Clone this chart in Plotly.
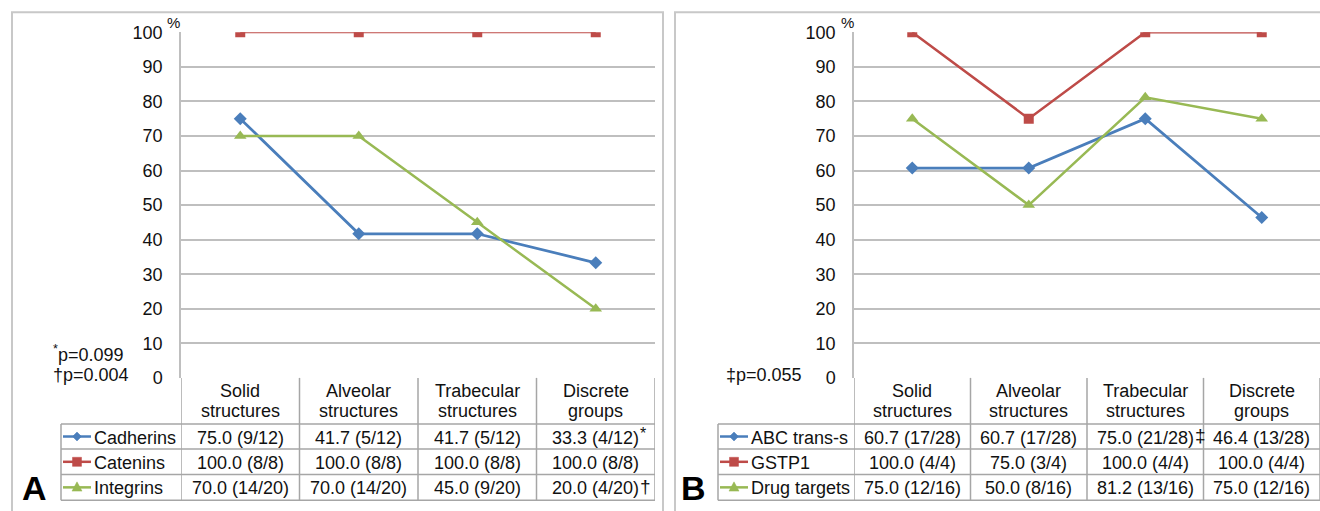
import plotly.graph_objects as go

# ---------------- data ----------------
categories = ["Solid structures", "Alveolar structures", "Trabecular structures", "Discrete groups"]

# Panel A
a_names = ["Cadherins", "Catenins", "Integrins"]
cadherins = [75.0, 41.7, 41.7, 33.3]
catenins = [100.0, 100.0, 100.0, 100.0]
integrins = [70.0, 70.0, 45.0, 20.0]
cadherins_n = ["9/12", "5/12", "5/12", "4/12"]
catenins_n = ["8/8", "8/8", "8/8", "8/8"]
integrins_n = ["14/20", "14/20", "9/20", "4/20"]
cadherins_note = ["", "", "", "*"]
catenins_note = ["", "", "", ""]
integrins_note = ["", "", "", "†"]

# Panel B
b_names = ["ABC trans-s", "GSTP1", "Drug targets"]
abc = [60.7, 60.7, 75.0, 46.4]
gstp1 = [100.0, 75.0, 100.0, 100.0]
drug = [75.0, 50.0, 81.2, 75.0]
abc_n = ["17/28", "17/28", "21/28", "13/28"]
gstp1_n = ["4/4", "3/4", "4/4", "4/4"]
drug_n = ["12/16", "8/16", "13/16", "12/16"]
abc_note = ["", "", "‡", ""]
gstp1_note = ["", "", "", ""]
drug_note = ["", "", "", ""]

y_ticks = [0, 10, 20, 30, 40, 50, 60, 70, 80, 90, 100]

# ---------------- styling / layout ----------------
W, H = 1320, 524
SY, BY = 0.96, 9.8     # how the photographed page maps figure pixels vertically
BLUE, RED, GREEN = "#4A7EBB", "#BE4B48", "#98B954"
GRID = "#BFBFBF"
TBL = "#A6A6A6"
FONT = "Liberation Sans, Arial, sans-serif"
FS = 18
TXT = "#111111"
# Arial advance widths (em) for the characters used in the table cells
CHAR_W = {".": 0.278, " ": 0.278, "(": 0.333, ")": 0.333, "/": 0.278}


def text_width(s, size):
    return sum(CHAR_W.get(ch, 0.556) for ch in s) * size


def px(x):
    return x / W


def py(y):
    return 1 - ((y - BY) / SY) / H


x_idx = list(range(len(categories)))

fig = go.Figure()

series_a = [(a_names[0], cadherins, BLUE, "diamond", 10, 2.75),
            (a_names[1], catenins, RED, "square", 10, 2.25),
            (a_names[2], integrins, GREEN, "triangle-up", 11, 2.5)]
series_b = [(b_names[0], abc, BLUE, "diamond", 10, 2.75),
            (b_names[1], gstp1, RED, "square", 10, 2.5),
            (b_names[2], drug, GREEN, "triangle-up", 11, 2.5)]

for name, vals, col, sym, sz, lw in series_a:
    fig.add_trace(go.Scatter(x=x_idx, y=vals, name=name, mode="lines+markers",
                             line=dict(color=col, width=lw),
                             marker=dict(symbol=sym, size=sz, color=col),
                             xaxis="x", yaxis="y", showlegend=False))
for name, vals, col, sym, sz, lw in series_b:
    fig.add_trace(go.Scatter(x=x_idx, y=vals, name=name, mode="lines+markers",
                             line=dict(color=col, width=lw),
                             marker=dict(symbol=sym, size=sz, color=col),
                             xaxis="x2", yaxis="y2", showlegend=False))

# geometry (pixels)
TOP, ZERO = 32, 377
ROW_EDGES = [423, 448, 473.5, 499]
A_LEFT, A_RIGHT, A_TBL_LEFT = 181, 655, 61
B_LEFT, B_RIGHT, B_TBL_LEFT = 854, 1320, 718

axis_common = dict(range=[-0.5, 3.5], showgrid=False, zeroline=False, showticklabels=False,
                   fixedrange=True)
yaxis_common = dict(range=[0, 100], tickvals=y_ticks, showgrid=True, gridcolor=GRID, gridwidth=1.5,
                    zeroline=False, showline=True, linecolor=GRID, linewidth=1.5,
                    tickfont=dict(size=FS, color=TXT, family=FONT),
                    ticklabelstandoff=13, ticks="", fixedrange=True)

fig.update_layout(
    width=W, height=H,
    margin=dict(l=0, r=0, t=0, b=0),
    paper_bgcolor="white", plot_bgcolor="white",
    font=dict(family=FONT, size=FS, color=TXT),
    xaxis=dict(domain=[px(A_LEFT), px(A_RIGHT)], anchor="y", **axis_common),
    yaxis=dict(domain=[py(ZERO), py(TOP)], anchor="x", **yaxis_common),
    xaxis2=dict(domain=[px(B_LEFT), px(B_RIGHT)], anchor="y2", **axis_common),
    yaxis2=dict(domain=[py(ZERO), py(TOP)], anchor="x2", **yaxis_common),
    showlegend=False,
)

shapes = []
annotations = []

# panel borders
shapes.append(dict(type="rect", xref="paper", yref="paper", x0=px(12), x1=px(663), y0=py(540), y1=py(12),
                   line=dict(color="#C8C8C8", width=2), layer="below"))
shapes.append(dict(type="rect", xref="paper", yref="paper", x0=px(675), x1=px(1340), y0=py(540), y1=py(12),
                   line=dict(color="#C8C8C8", width=2), layer="below"))


def marker_path(cx, cy, sym, r):
    if sym == "diamond":
        pts = [(cx, cy - r), (cx + r, cy), (cx, cy + r), (cx - r, cy)]
    elif sym == "square":
        pts = [(cx - r, cy - r), (cx + r, cy - r), (cx + r, cy + r), (cx - r, cy + r)]
    else:
        pts = [(cx, cy - r * 1.1), (cx + r, cy + r * 0.75), (cx - r, cy + r * 0.75)]
    return "M " + " L ".join(f"{px(x)},{py(y)}" for x, y in pts) + " Z"


def build_table(xref, tbl_left, plot_right, names, series, rows):
    # vertical column dividers (category boundaries on the category axis)
    for b in [-0.5, 0.5, 1.5, 2.5, 3.5]:
        shapes.append(dict(type="line", xref=xref, yref="paper", x0=b, x1=b,
                           y0=py(ZERO), y1=py(ROW_EDGES[-1]), line=dict(color=TBL, width=1.5)))
    # left edge of row-label column
    shapes.append(dict(type="line", xref="paper", yref="paper", x0=px(tbl_left), x1=px(tbl_left),
                       y0=py(ROW_EDGES[0]), y1=py(ROW_EDGES[-1]), line=dict(color=TBL, width=1.5)))
    # horizontal row lines
    for e in ROW_EDGES:
        shapes.append(dict(type="line", xref="paper", yref="paper", x0=px(tbl_left), x1=px(plot_right),
                           y0=py(e), y1=py(e), line=dict(color=TBL, width=1.5)))
    # header (two lines)
    for i, c in enumerate(categories):
        first, rest = c.split(" ", 1)
        for txt, yy in [(first, 390), (rest, 410)]:
            annotations.append(dict(xref=xref, yref="paper", x=i, y=py(yy), text=txt, showarrow=False,
                                    xanchor="center", yanchor="middle",
                                    font=dict(size=FS, family=FONT, color=TXT)))
    # rows
    for r, (vals, ns, notes) in enumerate(rows):
        yc = (ROW_EDGES[r] + ROW_EDGES[r + 1]) / 2
        # legend key + row label
        col, sym = series[r][2], series[r][3]
        kx0, kx1 = tbl_left + 2, tbl_left + 30
        shapes.append(dict(type="line", xref="paper", yref="paper", x0=px(kx0), x1=px(kx1),
                           y0=py(yc), y1=py(yc), line=dict(color=col, width=2.5)))
        shapes.append(dict(type="path", xref="paper", yref="paper",
                           path=marker_path((kx0 + kx1) / 2, yc, sym, 4.5 if sym != "triangle-up" else 5),
                           fillcolor=col, line=dict(color=col, width=0.5)))
        annotations.append(dict(xref="paper", yref="paper", x=px(kx1 + 1), y=py(yc + 1), text=names[r],
                                showarrow=False, xanchor="left", yanchor="middle",
                                font=dict(size=FS, family=FONT, color=TXT)))
        # cells
        for i in range(len(vals)):
            txt = f"{vals[i]:.1f} ({ns[i]})"
            annotations.append(dict(xref=xref, yref="paper", x=i, y=py(yc + 1), text=txt, showarrow=False,
                                    xanchor="center", yanchor="middle",
                                    font=dict(size=FS, family=FONT, color=TXT)))
            if notes[i]:
                small = notes[i] == "*"
                annotations.append(dict(xref=xref, yref="paper", x=i, y=py(yc + 1), text=notes[i],
                                        showarrow=False, xanchor="left", yanchor="middle",
                                        xshift=text_width(txt, FS) / 2 - 1,
                                        yshift=4 if small else 2,
                                        font=dict(size=16 if small else 19, family=FONT, color=TXT)))


build_table("x", A_TBL_LEFT, A_RIGHT, a_names, series_a,
            [(cadherins, cadherins_n, cadherins_note),
             (catenins, catenins_n, catenins_note),
             (integrins, integrins_n, integrins_note)])
build_table("x2", B_TBL_LEFT, B_RIGHT, b_names, series_b,
            [(abc, abc_n, abc_note),
             (gstp1, gstp1_n, gstp1_note),
             (drug, drug_n, drug_note)])

# % signs
for xx in [174, 847]:
    annotations.append(dict(xref="paper", yref="paper", x=px(xx), y=py(22), text="%", showarrow=False,
                            xanchor="center", yanchor="middle", font=dict(size=15, family=FONT, color=TXT)))

# p-values
annotations.append(dict(xref="paper", yref="paper", x=px(51), y=py(353),
                        text="<sup>*</sup>p=0.099", showarrow=False, xanchor="left", yanchor="middle",
                        font=dict(size=FS, family=FONT, color=TXT)))
annotations.append(dict(xref="paper", yref="paper", x=px(51), y=py(374),
                        text="†p=0.004", showarrow=False, xanchor="left", yanchor="middle",
                        font=dict(size=FS, family=FONT, color=TXT)))
annotations.append(dict(xref="paper", yref="paper", x=px(724), y=py(374),
                        text="‡p=0.055", showarrow=False, xanchor="left", yanchor="middle",
                        font=dict(size=FS, family=FONT, color=TXT)))

# panel letters
annotations.append(dict(xref="paper", yref="paper", x=px(34), y=py(487), text="<b>A</b>", showarrow=False,
                        xanchor="center", yanchor="middle", font=dict(size=34, family=FONT, color="black")))
annotations.append(dict(xref="paper", yref="paper", x=px(693), y=py(487), text="<b>B</b>", showarrow=False,
                        xanchor="center", yanchor="middle", font=dict(size=34, family=FONT, color="black")))

fig.update_layout(shapes=shapes, annotations=annotations)

fig.write_html("out.html", config={"displayModeBar": False},
               post_script="document.body.style.margin='0';document.body.style.overflow='hidden';")
